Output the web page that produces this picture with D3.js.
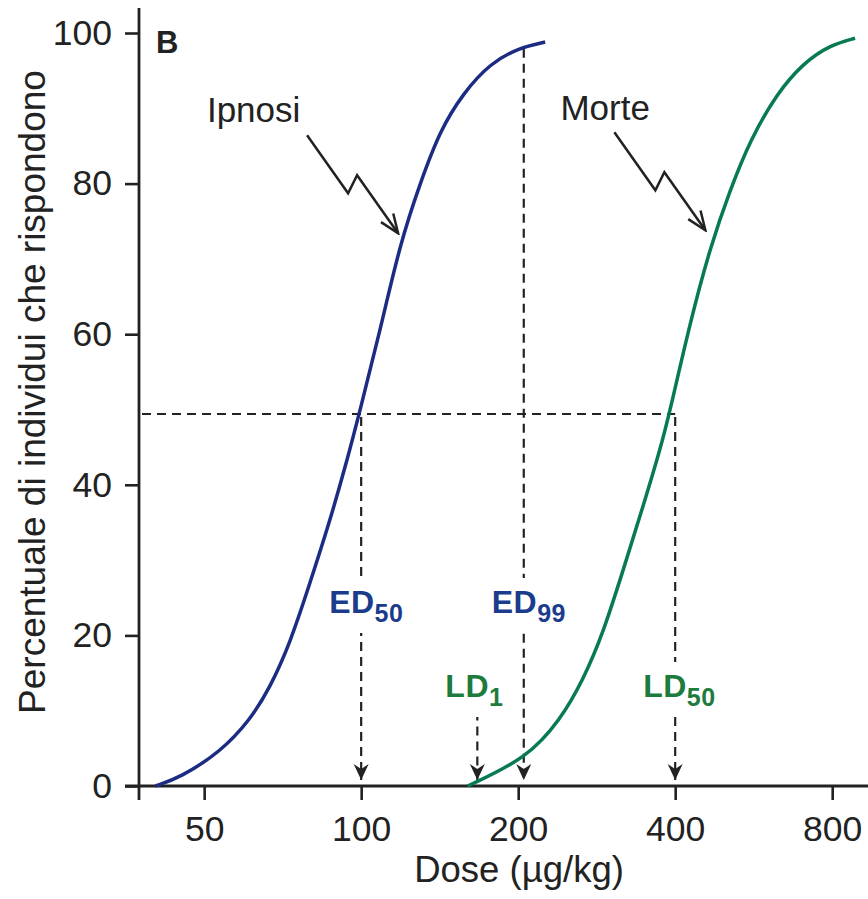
<!DOCTYPE html>
<html>
<head>
<meta charset="utf-8">
<script src="https://cdn.jsdelivr.net/npm/d3@7.9.0/dist/d3.min.js"></script>
<style>
  body { margin: 0; background: #fff; }
  svg { display: block; font-family: "Liberation Sans", Arial, Helvetica, sans-serif; }
</style>
</head>
<body>
<svg id="chart" width="868" height="899"></svg>
<script>
// dose-response curves (dose in µg/kg, % responding)
const ipnosiDose = [40.3, 44.9, 53.7, 61.3, 66.9, 73.1, 79.8, 87.2, 94.0, 99.1, 108.8, 118.8, 129.8, 141.7, 156.9, 176.7, 201.8, 225.3];
const ipnosiPct  = [0, 1.1, 4.5, 8.8, 13.1, 19.0, 27.0, 35.3, 43.3, 49.4, 60.6, 72.1, 80.1, 87.1, 92.0, 96.0, 98.1, 98.8];

const morteDose = [160, 208, 241, 266.5, 291, 318, 347, 374, 389.7, 427, 467, 510, 557, 627, 704, 793, 885];
const mortePct  = [0, 3.7, 8.8, 14.1, 20.3, 28.7, 37.1, 44.6, 49.4, 61.5, 71.6, 79.2, 85.8, 92.0, 96.0, 98.4, 99.3];

// reference doses: ED50, ED99, LD1, LD50
const refNames = ['ED', 'ED', 'LD', 'LD'];
const refSubs  = ['50', '99', '1', '50'];
const refDose  = [100, 205, 167, 400];
const refTop   = [49.4, 98.3, 10.3, 49.4];
const refGroup = ['ipnosi', 'ipnosi', 'morte', 'morte'];
const halfPct = 49.4;

const xTicks = [50, 100, 200, 400, 800];
const yTicks = [0, 20, 40, 60, 80, 100];

const annLabels = ['Ipnosi', 'Morte'];
const annTipDose = [117.7, 457];
const annTipPct = [73.4, 73.8];
const annTextDose = [62.2, 293.6];
const annTextPct = [88.2, 88.4];

const blue = '#1c2c82', blueText = '#1b3c8c';
const green = '#087a50', greenText = '#1d7b3d';
const ink = '#222';

const svg = d3.select('#chart');
const W = 868;

const x = d3.scaleLog().base(2).domain([37.5, 937]).range([139, 868]);
const y = d3.scaleLinear().domain([0, 100]).range([786, 33]);

// arrow markers
const defs = svg.append('defs');
defs.append('marker')
  .attr('id', 'solid-head')
  .attr('viewBox', '-17 -9 18 18')
  .attr('refX', 0).attr('refY', 0)
  .attr('markerUnits', 'userSpaceOnUse')
  .attr('markerWidth', 18).attr('markerHeight', 18)
  .attr('orient', 'auto')
  .append('path')
  .attr('d', 'M0,0 L-16,-7.5 L-11,0 L-16,7.5 Z')
  .attr('fill', ink);
defs.append('marker')
  .attr('id', 'open-head')
  .attr('viewBox', '-22 -10 24 20')
  .attr('refX', 0).attr('refY', 0)
  .attr('markerUnits', 'userSpaceOnUse')
  .attr('markerWidth', 24).attr('markerHeight', 20)
  .attr('orient', 'auto')
  .append('path')
  .attr('d', 'M-19,-7.5 L0,0 L-19,7.5')
  .attr('fill', 'none').attr('stroke', ink).attr('stroke-width', 2.5);

// axes
const yAxis = d3.axisLeft(y).tickValues(yTicks).tickSize(14).tickPadding(13).tickSizeOuter(0);
const xAxis = d3.axisBottom(x).tickValues(xTicks).tickFormat(d3.format('d')).tickSize(14).tickPadding(16).tickSizeOuter(0);

const gy = svg.append('g').attr('transform', `translate(${x.range()[0]},0)`).call(yAxis);
const gx = svg.append('g').attr('transform', `translate(0,${y(0)})`).call(xAxis);
[gx, gy].forEach(g => {
  g.select('.domain').remove();
  g.selectAll('line').attr('stroke', ink).attr('stroke-width', 2.6);
  g.selectAll('text').attr('fill', '#222').style('font-size', '35.5px').style('font-family', '"Liberation Sans", Arial, sans-serif');
});

svg.append('line')
  .attr('x1', x.range()[0]).attr('x2', x.range()[0])
  .attr('y1', y.range()[1] - 25).attr('y2', y(0) + 14)
  .attr('stroke', ink).attr('stroke-width', 2.8);
svg.append('line')
  .attr('x1', x.range()[0] - 14).attr('x2', W)
  .attr('y1', y(0)).attr('y2', y(0))
  .attr('stroke', ink).attr('stroke-width', 2.8);

// axis titles
svg.append('text')
  .attr('x', 519).attr('y', 882)
  .attr('text-anchor', 'middle')
  .attr('fill', '#222').style('font-size', '36.5px')
  .text('Dose (µg/kg)');
svg.append('text')
  .attr('transform', 'translate(45,392) rotate(-90)')
  .attr('text-anchor', 'middle')
  .attr('fill', '#222').style('font-size', '37px')
  .text('Percentuale di individui che rispondono');

svg.append('text')
  .attr('x', 156).attr('y', 53)
  .attr('fill', '#222').style('font-size', '31px').style('font-weight', 'bold')
  .text('B');

// dashed reference lines
const dash = '9,6';
svg.append('line')
  .attr('x1', x.range()[0] + 3).attr('x2', x(refDose[3]))
  .attr('y1', y(halfPct)).attr('y2', y(halfPct))
  .attr('stroke', ink).attr('stroke-width', 2).attr('stroke-dasharray', dash);

refDose.forEach((d, i) => {
  svg.append('line')
    .attr('x1', x(d)).attr('x2', x(d))
    .attr('y1', y(refTop[i]) + 3).attr('y2', y(0) - 6)
    .attr('stroke', ink).attr('stroke-width', 2.2).attr('stroke-dasharray', dash)
    .attr('marker-end', 'url(#solid-head)');
});

// curves
const line = d3.line()
  .x(d => x(d.dose))
  .y(d => y(d.pct))
  .curve(d3.curveBasis);

const ipnosi = ipnosiDose.map((d, i) => ({ dose: d, pct: ipnosiPct[i] }));
const morte = morteDose.map((d, i) => ({ dose: d, pct: mortePct[i] }));

svg.append('path').datum(ipnosi)
  .attr('d', line).attr('fill', 'none')
  .attr('stroke', blue).attr('stroke-width', 3.5);
svg.append('path').datum(morte)
  .attr('d', line).attr('fill', 'none')
  .attr('stroke', green).attr('stroke-width', 3.5);

// ED / LD labels on white patches that interrupt the dashes
const labelY = { ipnosi: 613, morte: 697 };
refDose.forEach((d, i) => {
  const g = svg.append('g');
  const col = refGroup[i] === 'ipnosi' ? blueText : greenText;
  const t = g.append('text')
    .attr('x', x(d) - 32).attr('y', labelY[refGroup[i]])
    .attr('fill', col).style('font-weight', 'bold').style('font-size', '32px')
    .style('letter-spacing', '0.5px');
  t.append('tspan').text(refNames[i]);
  t.append('tspan').attr('dy', 9).style('font-size', '25px').text(refSubs[i]);
  const bb = t.node().getBBox();
  g.insert('rect', 'text')
    .attr('x', bb.x - 2).attr('y', bb.y - 6)
    .attr('width', bb.width + 4).attr('height', bb.height + 12)
    .attr('fill', '#fff');
});

// zig-zag pointers with labels
const zig = [[-91, -98], [-50, -40], [-41, -58], [0, 0]];
annLabels.forEach((lab, i) => {
  const tx = x(annTipDose[i]), ty = y(annTipPct[i]);
  svg.append('path')
    .attr('d', d3.line()(zig.map(p => [tx + p[0], ty + p[1]])))
    .attr('fill', 'none').attr('stroke', ink).attr('stroke-width', 2.5)
    .attr('stroke-linejoin', 'miter')
    .attr('marker-end', 'url(#open-head)');
  svg.append('text')
    .attr('x', x(annTextDose[i])).attr('y', y(annTextPct[i]))
    .attr('text-anchor', 'middle')
    .attr('fill', '#222').style('font-size', '35px')
    .text(lab);
});
</script>
</body>
</html>
